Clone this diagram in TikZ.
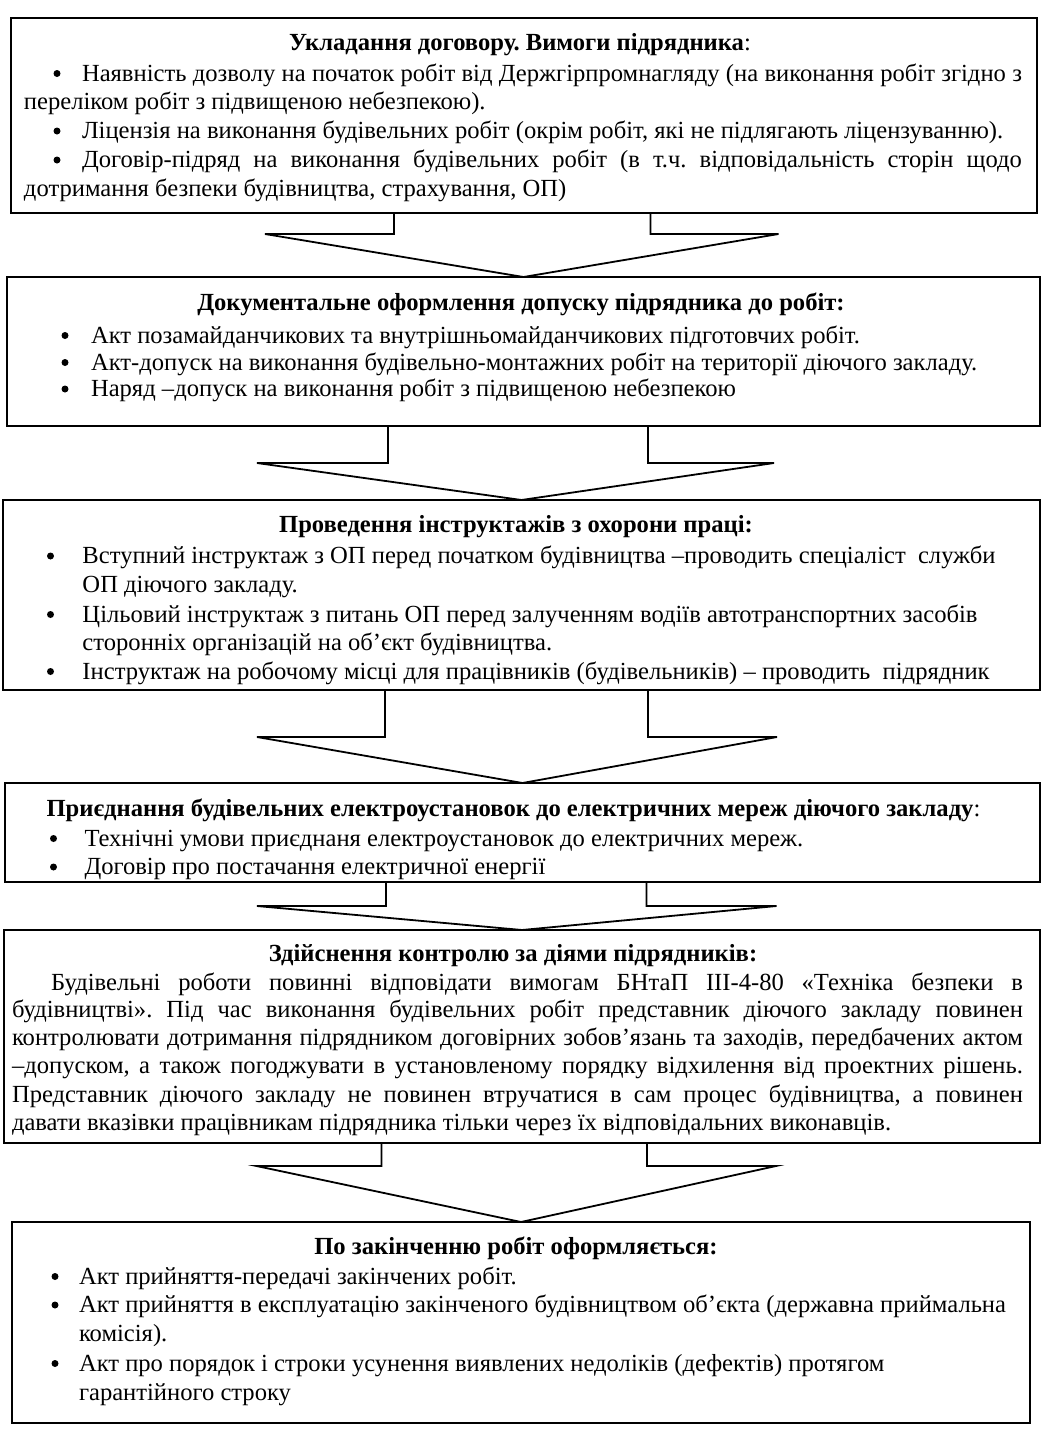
\documentclass[tikz,border=0pt]{standalone}
\usepackage{fontspec}
\setmainfont{Liberation Serif}
\usetikzlibrary{calc}
\newcommand\jl[2]{\makebox[#1][s]{#2}}
\begin{document}
\frenchspacing
\begin{tikzpicture}[x=0.5pt,y=-0.5pt,
  font=\fontsize{12.3pt}{14.7pt}\selectfont\frenchspacing,
  box/.style={draw, line width=1pt, inner sep=0pt, outer sep=0pt, rectangle},
  tl/.style={anchor=base west, inner sep=0pt, outer sep=0pt, text height=0.68em, text depth=0.18em},
  tt/.style={anchor=base, inner sep=0pt, outer sep=0pt, text height=0.68em, text depth=0.18em},
  dot/.style={fill=black},
  barrow/.style={draw, line width=0.9pt, line join=miter}]
\useasboundingbox (0,0) rectangle (1058,1436);
\fill[white] (0,0) rectangle (1058,1436);

% boxes
\node[box, minimum width=513pt, minimum height=97.5pt] (b1) at (524,115.5) {};
\node[box, minimum width=516.5pt, minimum height=74.5pt] (b2) at (523.5,351.5) {};
\node[box, minimum width=518.5pt, minimum height=95pt] (b3) at (521.5,595) {};
\node[box, minimum width=517.5pt, minimum height=49.5pt] (b4) at (522.5,832.5) {};
\node[box, minimum width=518pt, minimum height=106.5pt] (b5) at (522,1036.5) {};
\node[box, minimum width=509pt, minimum height=100.5pt] (b6) at (521,1322.5) {};

% block arrows
\draw[barrow] (b1.south) ++(-130,0) -- ++(0,21) -- ++(-129,0) -- (b2.north) -- ++(255,-43) -- ++(-128,0) -- ++(0,-21);
\draw[barrow] (b2.south) ++(-135.5,0) -- ++(0,37) -- ++(-131,0) -- (b3.north) -- ++(252.5,-37) -- ++(-126,0) -- ++(0,-37);
\draw[barrow] (b3.south) ++(-136.5,0) -- ++(0,47) -- ++(-128,0) -- (b4.north) -- ++(254.5,-46) -- ++(-129,0) -- ++(0,-47);
\draw[barrow] (b4.south) ++(-136.5,0) -- ++(0,24) -- ++(-129,0) -- (b5.north) -- ++(254.5,-24) -- ++(-130,0) -- ++(0,-24);
\draw[barrow] (b5.south) ++(-140.5,0) -- ++(0,23) -- ++(-125,0) -- (b6.north) -- ++(255,-56) -- ++(-129,0) -- ++(0,-23);

% bullets
\foreach \y in {73.5,131,160} \fill[dot] (57,\y) circle (1.75pt);
\foreach \y in {335.5,362.5,389} \fill[dot] (65,\y) circle (1.75pt);
\foreach \y in {556,614.5,671.5} \fill[dot] (50.5,\y) circle (1.75pt);
\foreach \y in {838.5,867} \fill[dot] (53.5,\y) circle (1.75pt);
\foreach \y in {1276.5,1305,1363.5} \fill[dot] (55,\y) circle (1.75pt);

% box 1
\node[tt] (t1) at (520,50) {\textbf{Укладання договору. Вимоги підрядника}:};
\node[tl] (t1a) at (82,81) {\jl{470pt}{Наявність дозволу на початок робіт від Держгірпромнагляду (на виконання робіт згідно з}};
\node[tl] (t1b) at (24,109) {переліком робіт з підвищеною небезпекою).};
\node[tl] (t1c) at (82,138.5) {Ліцензія на виконання будівельних робіт (окрім робіт, які не підлягають ліцензуванню).};
\node[tl] (t1d) at (82,167.5) {\jl{470pt}{Договір-підряд на виконання будівельних робіт (в т.ч. відповідальність сторін щодо}};
\node[tl] (t1e) at (24,196) {дотримання безпеки будівництва, страхування, ОП)};

% box 2
\node[tt] (t2) at (521,310) {\textbf{Документальне оформлення допуску підрядника до робіт:}};
\node[tl] (t2a) at (91,343) {Акт позамайданчикових та внутрішньомайданчикових підготовчих робіт.};
\node[tl] (t2b) at (91,370) {Акт-допуск на виконання будівельно-монтажних робіт на території діючого закладу.};
\node[tl] (t2c) at (91,396.5) {Наряд –допуск на виконання робіт з підвищеною небезпекою};

% box 3
\node[tt] (t3) at (516,532) {\textbf{Проведення інструктажів з охорони праці:}};
\node[tl] (t3a) at (82.5,563.5) {Вступний інструктаж з ОП перед початком будівництва –проводить спеціаліст\ \ служби};
\node[tl] (t3b) at (82.5,592) {ОП діючого закладу.};
\node[tl] (t3c) at (82.5,622) {Цільовий інструктаж з питань ОП перед залученням водіїв автотранспортних засобів};
\node[tl] (t3d) at (82.5,650.5) {сторонніх організацій на об’єкт будівництва.};
\node[tl] (t3e) at (82.5,679) {Інструктаж на робочому місці для працівників (будівельників) – проводить\ \ підрядник};

% box 4
\node[tt] (t4) at (513.5,816) {\textbf{Приєднання будівельних електроустановок до електричних мереж діючого закладу}:};
\node[tl] (t4a) at (84.5,846) {Технічні умови приєднаня електроустановок до електричних мереж.};
\node[tl] (t4b) at (84.5,874.5) {Договір про постачання електричної енергії};

% box 5
\node[tt] (t5) at (513,961.5) {\textbf{Здійснення контролю за діями підрядників:}};
\node[tl] (t5a) at (51,990) {\jl{486pt}{Будівельні роботи повинні відповідати вимогам БНтаП ІІІ-4-80 «Техніка безпеки в}};
\node[tl] (t5b) at (12,1017.5) {\jl{505.5pt}{будівництві». Під час виконання будівельних робіт представник діючого закладу повинен}};
\node[tl] (t5c) at (12,1045.5) {\jl{505.5pt}{контролювати дотримання підрядником договірних зобов’язань та заходів, передбачених актом}};
\node[tl] (t5d) at (12,1073.5) {\jl{505.5pt}{–допуском, а також погоджувати в установленому порядку відхилення від проектних рішень.}};
\node[tl] (t5e) at (12,1102) {\jl{505.5pt}{Представник діючого закладу не повинен втручатися в сам процес будівництва, а повинен}};
\node[tl] (t5f) at (12,1130.5) {давати вказівки працівникам підрядника тільки через їх відповідальних виконавців.};

% box 6
\node[tt] (t6) at (516,1254.5) {\textbf{По закінченню робіт оформляється:}};
\node[tl] (t6a) at (79,1284) {Акт прийняття-передачі закінчених робіт.};
\node[tl] (t6b) at (79,1312.5) {Акт прийняття в експлуатацію закінченого будівництвом об’єкта (державна приймальна};
\node[tl] (t6c) at (79,1341.5) {комісія).};
\node[tl] (t6d) at (79,1371) {Акт про порядок і строки усунення виявлених недоліків (дефектів) протягом};
\node[tl] (t6e) at (79,1400) {гарантійного строку};
\end{tikzpicture}
\end{document}
